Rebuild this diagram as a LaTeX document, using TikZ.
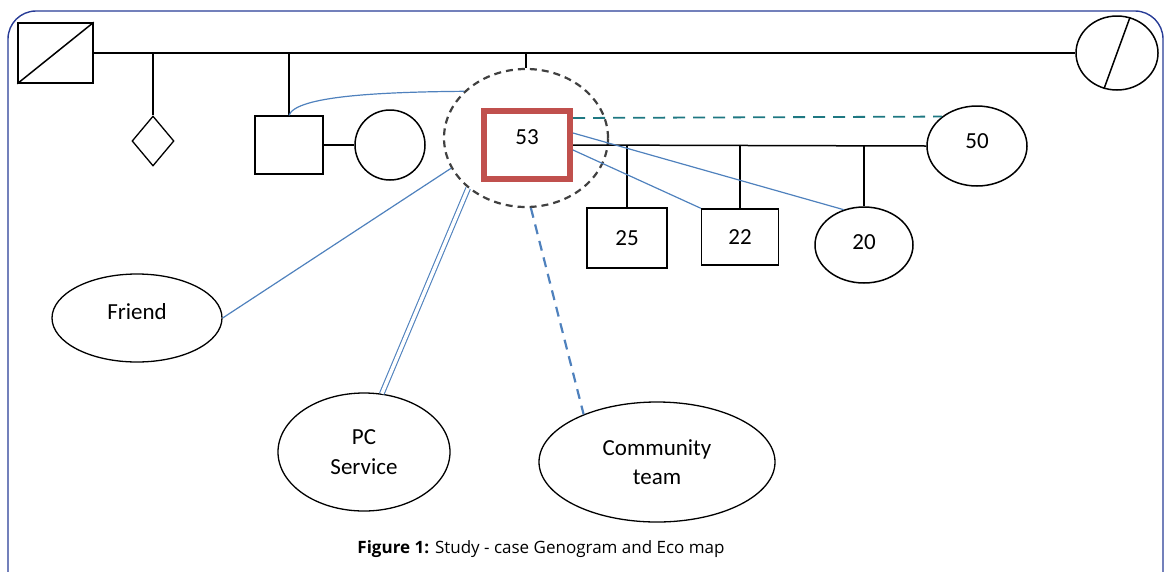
\documentclass[tikz,border=0pt]{standalone}
\usepackage{fontspec}
\setmainfont{Carlito}
\newfontfamily\capfont{Open Sans}
\usetikzlibrary{shapes.geometric,positioning}

\definecolor{linkblue}{RGB}{79,129,189}
\definecolor{egored}{RGB}{192,80,77}
\definecolor{frameblue}{RGB}{40,60,150}
\definecolor{tealdash}{RGB}{30,120,130}

\begin{document}
\begin{tikzpicture}[x=1pt,y=-1pt,
male/.style={draw, line width=1.5pt, inner sep=0pt, font=\fontsize{23}{27}\selectfont},
female/.style={draw, ellipse, line width=1.5pt, inner sep=0pt, font=\fontsize{23}{27}\selectfont},
agency/.style={draw, ellipse, line width=1.3pt, inner sep=0pt, align=center, font=\fontsize{23}{29.5}\selectfont},
tie/.style={line width=1.5pt},
link/.style={linkblue, line width=1.2pt},
strong/.style={linkblue, line width=1.1pt, double=white, double distance=3.5pt},
weak/.style={linkblue, line width=2.2pt, dash pattern=on 10pt off 7pt},
close/.style={tealdash, line width=1.8pt, dash pattern=on 12pt off 8pt}
]
\useasboundingbox (0,0) rectangle (1164,571);
\begin{scope}
  \clip (0,0) rectangle (1164,571);
  \draw[frameblue, line width=1.4pt, rounded corners=28pt] (8,11) rectangle (1163,600);
\end{scope}

\node[male, minimum width=75pt, minimum height=60pt] (gf) at (55.5,53) {};
\node[female, minimum width=82pt, minimum height=74pt] (gm) at (1117,53) {};
\draw[tie] (gf.south west) -- (gf.north east);
\draw[tie] (gm.70) -- (gm.250);
\draw[tie] (gf.east) -- (gm.west);

\node[draw, diamond, line width=1.3pt, inner sep=0pt, minimum width=42pt, minimum height=50pt] (unk) at (153,141) {};
\node[male, minimum width=68pt, minimum height=58pt] (bro) at (289,145) {};
\node[female, minimum width=70pt, minimum height=70pt] (broW) at (390,145) {};
\node[draw=black!75, ellipse, line width=2.2pt, dash pattern=on 7pt off 5pt, minimum width=164pt, minimum height=138pt] (eco) at (526,138) {};
\node[male, draw=egored, line width=6pt, minimum width=86pt, minimum height=68pt, text depth=16pt] (ego) at (527,145) {53};
\node[female, minimum width=100pt, minimum height=80pt, text depth=10pt] (wife) at (977,146) {50};

\draw[tie] (unk.north |- gf.east) -- (unk.north);
\draw[tie] (bro.north |- gf.east) -- (bro.north);
\draw[tie] (eco.north |- gf.east) -- (eco.north);
\draw[tie] (bro.east) -- (broW.west);
\draw[tie] (ego.east) -- (wife.west);

\node[male, minimum width=80pt, minimum height=60pt] (son1) at (627,238) {25};
\node[male, minimum width=77pt, minimum height=56pt] (son2) at (740,237) {22};
\node[female, minimum width=98pt, minimum height=76pt, text depth=6pt] (dau) at (864,245) {20};
\draw[tie] (son1.north |- ego.east) -- (son1.north);
\draw[tie] (son2.north |- ego.east) -- (son2.north);
\draw[tie] (dau.north |- ego.east) -- (dau.north);

\coordinate (egoT) at ([yshift=27pt]ego.east);
\draw[close] (egoT) -- (wife.140);
\draw[link] ([yshift=12pt]ego.east) -- (dau.120);
\draw[link] ([yshift=-5pt]ego.east) -- (son2.north west);
\draw[link] (bro.north) .. controls (296,96) and (380,92) .. (eco.143);

\node[agency, minimum width=170pt, minimum height=88pt, text depth=12pt] (friend) at (137,318) {Friend};
\node[agency, minimum width=172pt, minimum height=118pt] (pc) at (364,452) {PC\\Service};
\node[agency, minimum width=236pt, minimum height=120pt] (comm) at (657,462) {Community\\team};

\draw[link] (friend.east) -- (eco.202);
\draw[strong] (pc.73) -- (eco.221);
\draw[weak] (eco.-86) -- (comm.147);

\node[font=\capfont\fontsize{17}{20}\selectfont] (cap) at (541,549) {\textbf{Figure 1:} Study - case Genogram and Eco map};
\end{tikzpicture}
\end{document}
